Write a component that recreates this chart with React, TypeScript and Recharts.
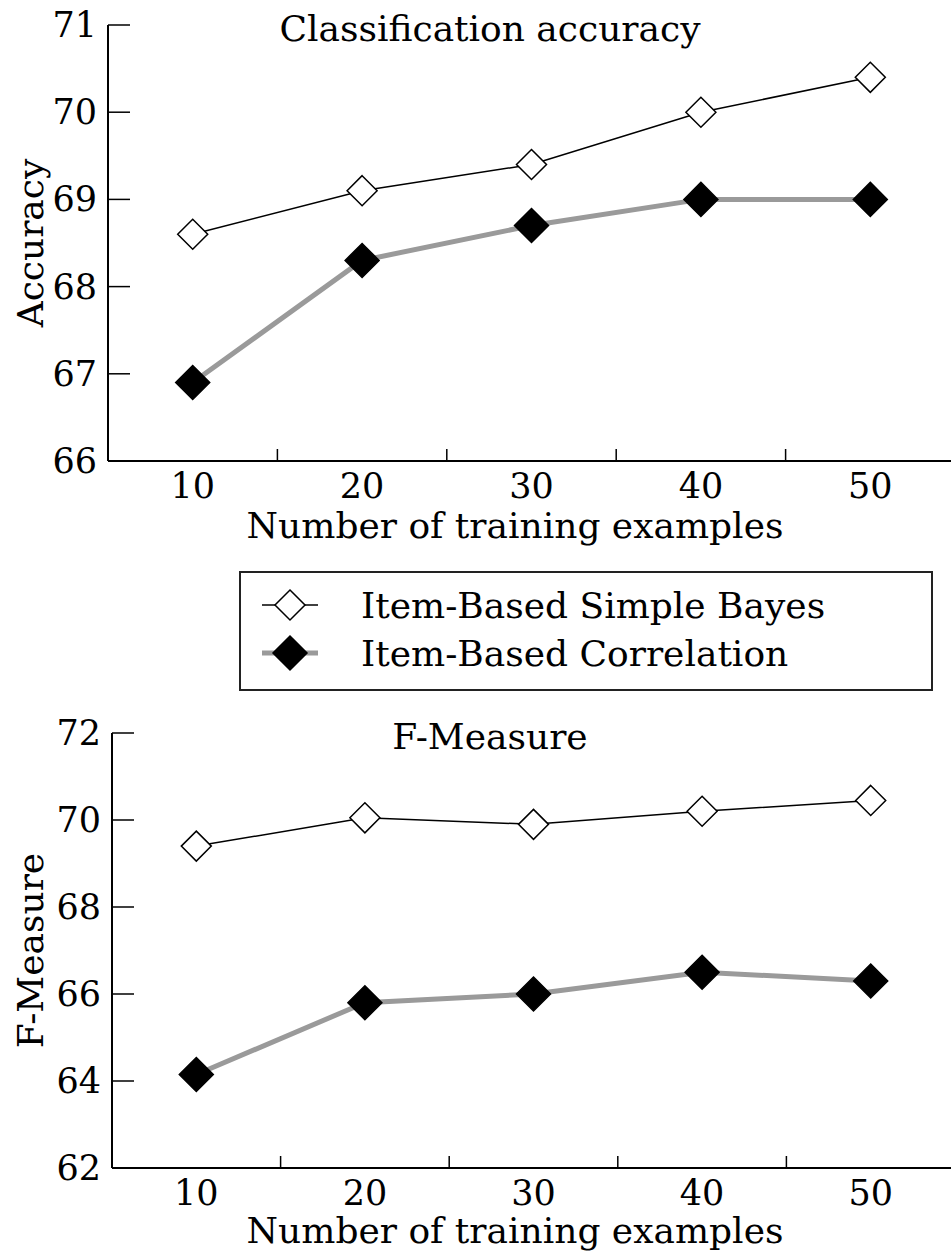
import React from "react";
import { LineChart, Line, XAxis, YAxis, Label } from "recharts";

// x values: number of training examples
const examples = [10, 20, 30, 40, 50];
const xTicks = [10, 15, 20, 25, 30, 35, 40, 45, 50];

// classification accuracy
const accuracyBayes = [68.6, 69.1, 69.4, 70.0, 70.4];
const accuracyCorr = [66.9, 68.3, 68.7, 69.0, 69.0];
const accuracyTicks = [66, 67, 68, 69, 70, 71];

// f-measure
const fBayes = [69.4, 70.05, 69.9, 70.2, 70.45];
const fCorr = [64.15, 65.8, 66.0, 66.5, 66.3];
const fTicks = [62, 64, 66, 68, 70, 72];

const seriesNames = ["Item-Based Simple Bayes", "Item-Based Correlation"];

const FONT = "'DejaVu Serif', serif";
const TICK_SIZE = 35;
const LABEL_SIZE = 36;

const series = [
  { key: "bayes", name: seriesNames[0], stroke: "#000", width: 1.5, fill: "#fff", r: 15 },
  { key: "corr", name: seriesNames[1], stroke: "#9a9a9a", width: 5, fill: "#000", r: 17 },
];

function diamond(cx: number, cy: number, r: number) {
  return `M${cx},${cy - r}L${cx + r},${cy}L${cx},${cy + r}L${cx - r},${cy}Z`;
}

const makeDot = (s: (typeof series)[number]) => (props: any) => {
  const { cx, cy, index } = props;
  if (cx == null || cy == null) return <g key={index} />;
  return (
    <path key={index} d={diamond(cx, cy, s.r)} fill={s.fill} stroke="#000" strokeWidth={1.5} />
  );
};

const XTick = (props: any) => {
  const { x, y, payload } = props;
  const v = payload.value;
  if (v % 10 !== 0) {
    return <line x1={x} x2={x} y1={y} y2={y - 12} stroke="#000" strokeWidth={1.5} />;
  }
  return (
    <text x={x} y={y + 37} textAnchor="middle" fontFamily={FONT} fontSize={TICK_SIZE} fill="#000">
      {v}
    </text>
  );
};

const YTick = (props: any) => {
  const { x, y, payload } = props;
  return (
    <g>
      <line x1={x} x2={x + 22} y1={y} y2={y} stroke="#000" strokeWidth={1.5} />
      <text x={x - 11} y={y + 12} textAnchor="end" fontFamily={FONT} fontSize={TICK_SIZE} fill="#000">
        {payload.value}
      </text>
    </g>
  );
};

interface PanelProps {
  title: string;
  yLabel: string;
  bayes: number[];
  corr: number[];
  yTicks: number[];
  top: number;
  height: number;
  plotTop: number;
  axisWidth: number;
  xAxisHeight: number;
  xLabelOffset: number;
}

function Panel(p: PanelProps) {
  const { title, yLabel, bayes, corr, yTicks, top, height, plotTop, axisWidth, xAxisHeight, xLabelOffset } = p;
  const data = examples.map((n, i) => ({ n, bayes: bayes[i], corr: corr[i] }));
  const midY = plotTop + (height - plotTop - xAxisHeight) / 2;
  return (
    <div style={{ position: "absolute", left: 0, top }}>
      <LineChart
        width={951}
        height={height}
        data={data}
        margin={{ top: plotTop, right: -4, left: 0, bottom: 0 }}
      >
        <XAxis
          dataKey="n"
          type="number"
          domain={[5, 55]}
          ticks={xTicks}
          interval={0}
          tickSize={0}
          tickMargin={0}
          tickLine={false}
          tick={<XTick />}
          height={xAxisHeight}
          axisLine={{ stroke: "#000", strokeWidth: 2 }}
        >
          <Label
            content={(lp: any) => (
              <text
                x={515}
                y={lp.viewBox.y + xLabelOffset}
                textAnchor="middle"
                fontFamily={FONT}
                fontSize={LABEL_SIZE}
                fill="#000"
              >
                Number of training examples
              </text>
            )}
          />
        </XAxis>
        <YAxis
          type="number"
          domain={[yTicks[0], yTicks[yTicks.length - 1]]}
          ticks={yTicks}
          interval={0}
          width={axisWidth}
          tickSize={0}
          tickMargin={0}
          tickLine={false}
          tick={<YTick />}
          axisLine={{ stroke: "#000", strokeWidth: 2 }}
        >
          <Label
            content={() => (
              <g>
                <text
                  x={43}
                  y={midY}
                  transform={`rotate(-90 43 ${midY})`}
                  textAnchor="middle"
                  fontFamily={FONT}
                  fontSize={LABEL_SIZE}
                  fill="#000"
                >
                  {yLabel}
                </text>
                <text
                  x={490}
                  y={plotTop + 16}
                  textAnchor="middle"
                  fontFamily={FONT}
                  fontSize={LABEL_SIZE}
                  fill="#000"
                >
                  {title}
                </text>
              </g>
            )}
          />
        </YAxis>
        <Line
          dataKey="corr"
          name={series[1].name}
          type="linear"
          stroke={series[1].stroke}
          strokeWidth={series[1].width}
          dot={makeDot(series[1])}
          activeDot={false}
          isAnimationActive={false}
        />
        <Line
          dataKey="bayes"
          name={series[0].name}
          type="linear"
          stroke={series[0].stroke}
          strokeWidth={series[0].width}
          dot={makeDot(series[0])}
          activeDot={false}
          isAnimationActive={false}
        />
      </LineChart>
    </div>
  );
}

function LegendBox() {
  return (
    <svg
      width={694}
      height={120}
      style={{ position: "absolute", left: 239, top: 571 }}
    >
      <rect x={1} y={1} width={692} height={118} fill="#fff" stroke="#222" strokeWidth={2} />
      {series.map((s, i) => {
        const cy = 34 + i * 48;
        return (
          <g key={s.key}>
            <line x1={23} x2={79} y1={cy} y2={cy} stroke={s.stroke} strokeWidth={s.width} />
            <path d={diamond(51, cy, s.r)} fill={s.fill} stroke="#000" strokeWidth={1.5} />
            <text x={122} y={cy + 13} fontFamily={FONT} fontSize={LABEL_SIZE} fill="#000">
              {s.name}
            </text>
          </g>
        );
      })}
    </svg>
  );
}

export default function App() {
  return (
    <div style={{ position: "absolute", left: 0, top: 0, width: 951, height: 1255, background: "#fff" }}>
      <Panel
        title="Classification accuracy"
        yLabel="Accuracy"
        bayes={accuracyBayes}
        corr={accuracyCorr}
        yTicks={accuracyTicks}
        top={0}
        height={560}
        plotTop={25}
        axisWidth={108}
        xAxisHeight={99}
        xLabelOffset={77}
      />
      <LegendBox />
      <Panel
        title="F-Measure"
        yLabel="F-Measure"
        bayes={fBayes}
        corr={fCorr}
        yTicks={fTicks}
        top={700}
        height={555}
        plotTop={33}
        axisWidth={112}
        xAxisHeight={87}
        xLabelOffset={75}
      />
    </div>
  );
}
